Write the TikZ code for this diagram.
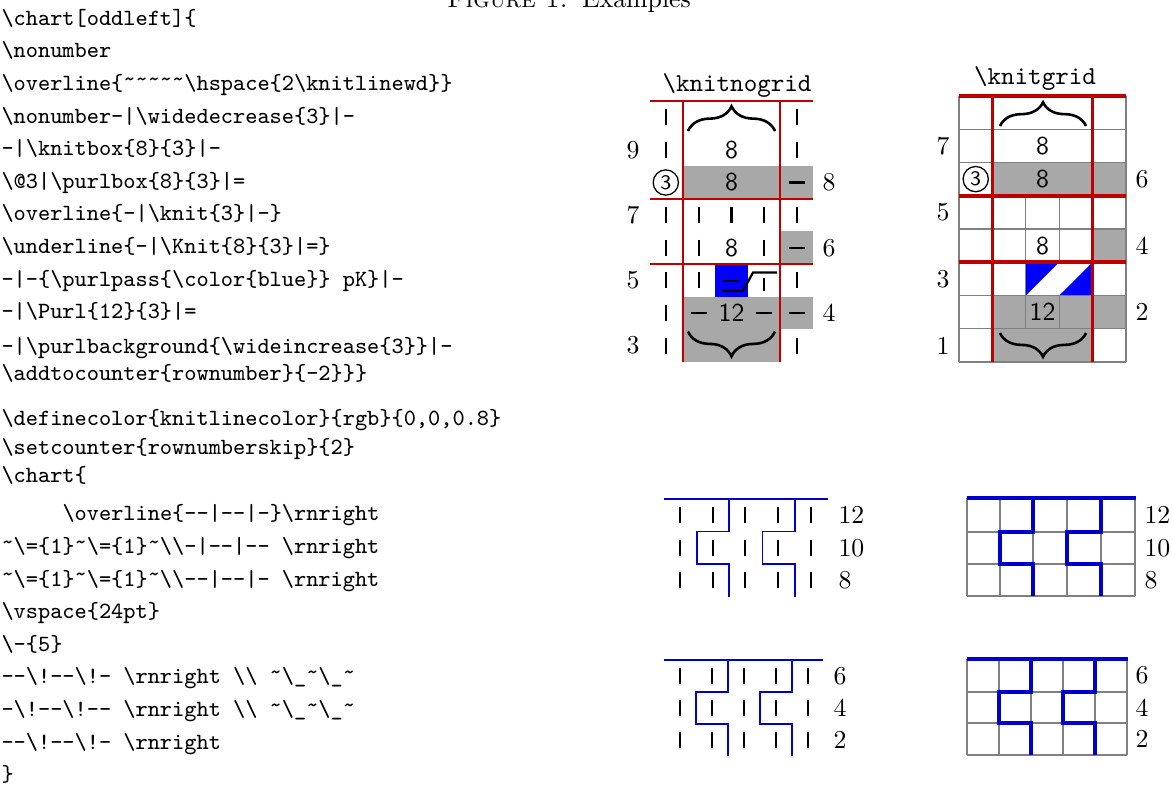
\documentclass[tikz,border=0pt]{standalone}
\usetikzlibrary{decorations.pathreplacing}

\definecolor{chartred}{rgb}{0.75,0,0}
\definecolor{purlgray}{rgb}{0.66,0.66,0.66}
\definecolor{gridgray}{rgb}{0.5,0.5,0.5}
\definecolor{knitlinecolor}{rgb}{0,0,0.8}
\definecolor{slipblue}{rgb}{0,0,1}

% verbatim-like helpers
\newcommand\bs{\textbackslash}
\newcommand\ob{\{}
\newcommand\cb{\}}
\newcommand\tld{\raisebox{0.18em}{\textasciitilde}}
\newcommand\hh{-\kern0pt-}

% knitting symbols
\newcommand\kbar[2]{\draw[knitbar] (#1,#2) ++(0,-8) -- ++(0,16);}
\newcommand\pdash[2]{\draw[purldash] (#1,#2) ++(-8,0) -- ++(16,0);}

\tikzset{
  code/.style={anchor=base west, inner sep=0pt, font=\ttfamily\fontsize{9}{11}\selectfont},
  charttitle/.style={inner sep=0pt, font=\ttfamily\fontsize{10}{12}\selectfont},
  rownum/.style={inner sep=0pt, font=\fontsize{10}{12}\selectfont},
  rnright/.style={rownum, anchor=west},
  stnum/.style={inner sep=0pt, font=\sffamily\fontsize{10}{12}\selectfont},
  circnum/.style={circle, draw, line width=0.5pt, inner sep=0pt, minimum size=9.8pt,
    font=\sffamily\fontsize{8}{9}\selectfont},
  redA/.style={draw=chartred, line width=0.8pt},
  redB/.style={draw=chartred, line width=1.4pt},
  knitbar/.style={draw=black, line width=0.8pt},
  purldash/.style={draw=black, line width=0.85pt},
  gridline/.style={draw=gridgray, line width=0.45pt},
  cableA/.style={draw=knitlinecolor, line width=0.75pt},
  cableB/.style={draw=knitlinecolor, line width=1.35pt},
  bracestyle/.style={decorate, decoration={brace, amplitude=#1}, line width=1pt},
}

\begin{document}
\begin{tikzpicture}[x=0.3876pt, y=-0.3876pt]
\useasboundingbox (0,0) rectangle (1172,789);
\clip (0,0) rectangle (1172,789);

% ---------- caption ----------
\node[inner sep=0pt, anchor=base, font=\fontsize{10}{12}\selectfont] (caption) at (569,7)
  {\textsc{Figure 1.}\hspace{5.5pt}Examples};

% ---------- source listing, first chart ----------
\node[code] (ca0)  at (1,25.3)  {\bs chart[oddleft]\ob};
\node[code] (ca1)  at (1,57.9)  {\bs nonumber};
\node[code] (ca2)  at (1,90.5)  {\bs overline\ob\tld\tld\tld\tld\tld\bs hspace\ob 2\bs knitlinewd\cb\cb};
\node[code] (ca3)  at (1,123.1) {\bs nonumber-|\bs widedecrease\ob 3\cb|-};
\node[code] (ca4)  at (1,155.7) {-|\bs knitbox\ob 8\cb\ob 3\cb|-};
\node[code] (ca5)  at (1,188.3) {\bs @3|\bs purlbox\ob 8\cb\ob 3\cb|=};
\node[code] (ca6)  at (1,220.9) {\bs overline\ob -|\bs knit\ob 3\cb|-\cb};
\node[code] (ca7)  at (1,253.5) {\bs underline\ob -|\bs Knit\ob 8\cb\ob 3\cb|=\cb};
\node[code] (ca8)  at (1,286.1) {-|-\ob\bs purlpass\ob\bs color\ob blue\cb\cb\ pK\cb|-};
\node[code] (ca9)  at (1,318.7) {-|\bs Purl\ob 12\cb\ob 3\cb|=};
\node[code] (ca10) at (1,353.3) {-|\bs purlbackground\ob\bs wideincrease\ob 3\cb\cb|-};
\node[code] (ca11) at (1,380.8) {\bs addtocounter\ob rownumber\cb\ob -2\cb\cb\cb};

% ---------- source listing, cable charts ----------
\node[code] (cb0)  at (1,425.8) {\bs definecolor\ob knitlinecolor\cb\ob rgb\cb\ob 0,0,0.8\cb};
\node[code] (cb1)  at (1,454.0) {\bs setcounter\ob rownumberskip\cb\ob 2\cb};
\node[code] (cb2)  at (1,482.8) {\bs chart\ob};
\node[code] (cb3)  at (62,520.8) {\bs overline\ob\hh|\hh|-\cb\bs rnright};
\node[code] (cb4)  at (1,553.4) {\tld\bs=\ob 1\cb\tld\bs=\ob 1\cb\tld\bs\bs-|\hh|\hh\ \bs rnright};
\node[code] (cb5)  at (1,586.0) {\tld\bs=\ob 1\cb\tld\bs=\ob 1\cb\tld\bs\bs\hh|\hh|-\ \bs rnright};
\node[code] (cb6)  at (1,618.6) {\bs vspace\ob 24pt\cb};
\node[code] (cb7)  at (1,651.2) {\bs-\ob 5\cb};
\node[code] (cb8)  at (1,683.8) {\hh\bs!\hh\bs!-\ \bs rnright\ \bs\bs\ \tld\bs\_\tld\bs\_\tld};
\node[code] (cb9)  at (1,716.4) {-\bs!\hh\bs!\hh\ \bs rnright\ \bs\bs\ \tld\bs\_\tld\bs\_\tld};
\node[code] (cb10) at (1,749.0) {\hh\bs!\hh\bs!-\ \bs rnright};
\node[code] (cb11) at (1,781.6) {\cb};

% =====================================================
% chart without grid (\knitnogrid)
% columns 650 | 682.6 | 715.2 | 747.8 | 780.4 | 813 ; rows from 101 by 32.6
% =====================================================
\node[charttitle] (titleA) at (737,85) {\bs knitnogrid};

% purl backgrounds
\fill[purlgray] (682.6,166.2) rectangle (813,198.8);
\fill[purlgray] (780.4,231.4) rectangle (813,264);
\fill[purlgray] (682.6,296.6) rectangle (813,329.2);
\fill[purlgray] (682.6,329.2) rectangle (780.4,361.8);
% slipped stitch cell
\fill[slipblue] (715.2,264) rectangle (747.8,296.6);

% frame lines
\draw[redA] (650,101) -- (813,101);
\draw[redA] (650,198.8) -- (813,198.8);
\draw[redA] (650,264) -- (813,264);
\draw[redA] (682.6,101) -- (682.6,361.8);
\draw[redA] (780.4,101) -- (780.4,361.8);

% stitches, left column
\foreach \y in {117.3,149.9,215.1,247.7,280.3,312.9,345.5} {\kbar{666.3}{\y}}
% stitches, right column
\foreach \y in {117.3,149.9,215.1,280.3,345.5} {\kbar{796.7}{\y}}
\foreach \y in {182.5,247.7,312.9} {\pdash{796.7}{\y}}
% stitches, middle block
\foreach \y in {215.1,247.7,280.3} {\kbar{698.9}{\y}}
\kbar{731.5}{215.1}
\foreach \y in {215.1,247.7} {\kbar{764.1}{\y}}
\pdash{698.9}{312.9}
\pdash{764.1}{312.9}
% purl pass with yarn strand
\draw[purldash] (722.5,281) -- (738.5,281);
\draw[purldash] (722,291) -- (743,291) -- (753,272.5) -- (777,272.5);
\draw[knitbar] (764.1,278) -- (764.1,290.5);

% counts and markers
\node[stnum] (nA2) at (731.5,149.9) {8};
\node[stnum] (nA3) at (731.5,182.5) {8};
\node[stnum] (nA5) at (731.5,247.7) {8};
\node[stnum] (nA7) at (731.5,312.9) {12};
\node[circnum] (cA) at (665.8,182.5) {3};
\draw[bracestyle=9.6pt] (688,131) -- (775,131);
\draw[bracestyle=9.6pt] (775,331.5) -- (688,331.5);

% row numbers
\node[rownum] (lA9) at (633,149.9) {9};
\node[rownum] (lA7) at (633,215.1) {7};
\node[rownum] (lA5) at (633,280.3) {5};
\node[rownum] (lA3) at (633,345.5) {3};
\node[rownum] (rA8) at (829,182.5) {8};
\node[rownum] (rA6) at (829,247.7) {6};
\node[rownum] (rA4) at (829,312.9) {4};

% =====================================================
% chart with grid (\knitgrid)
% columns 959 | 992.4 | 1025.8 | 1059.2 | 1092.6 | 1126 ; rows from 96 by 33.25
% =====================================================
\node[charttitle] (titleB) at (1035,78) {\bs knitgrid};

\fill[purlgray] (992.4,162.5) rectangle (1126,195.75);
\fill[purlgray] (1092.6,229) rectangle (1126,262.25);
\fill[purlgray] (992.4,295.5) rectangle (1126,328.75);
\fill[purlgray] (992.4,328.75) rectangle (1092.6,362);

% wide increase
\fill[slipblue] (1025.8,262.25) -- (1059.2,262.25) -- (1025.8,295.5) -- cycle;
\fill[slipblue] (1092.6,262.25) -- (1092.6,295.5) -- (1059.2,295.5) -- cycle;

% grid
\foreach \y in {129.25,162.5,229,295.5,328.75,362} {\draw[gridline] (959,\y) -- (1126,\y);}
\draw[gridline] (959,96) -- (959,362);
\draw[gridline] (1126,96) -- (1126,362);
\draw[gridline] (1025.8,195.75) -- (1025.8,328.75);
\draw[gridline] (1059.2,195.75) -- (1059.2,262.25);
\draw[gridline] (1059.2,295.5) -- (1059.2,328.75);

% frame lines
\draw[redB] (959,96) -- (1126,96);
\draw[redB] (959,195.75) -- (1126,195.75);
\draw[redB] (959,262.25) -- (1126,262.25);
\draw[redB] (992.4,96) -- (992.4,362);
\draw[redB] (1092.6,96) -- (1092.6,362);

\node[stnum] (nB2) at (1042.5,145.9) {8};
\node[stnum] (nB3) at (1042.5,179.1) {8};
\node[stnum] (nB5) at (1042.5,245.6) {8};
\node[stnum] (nB7) at (1042.5,312.1) {12};
\node[circnum] (cB) at (975.7,179.1) {3};
\draw[bracestyle=9.2pt] (1000,126) -- (1086,126);
\draw[bracestyle=9.2pt] (1086,333) -- (1000,333);

\node[rownum] (lB7) at (943,145.9) {7};
\node[rownum] (lB5) at (943,212.4) {5};
\node[rownum] (lB3) at (943,278.9) {3};
\node[rownum] (lB1) at (943,345.4) {1};
\node[rownum] (rB6) at (1142,179.1) {6};
\node[rownum] (rB4) at (1142,245.6) {4};
\node[rownum] (rB2) at (1142,312.1) {2};

% =====================================================
% cable charts, upper pair
% =====================================================
% without grid
\foreach \y in {515.2,547.7,580.2}
  \foreach \x in {680,712.7,745.4,778.1,810.8} {\kbar{\x}{\y}}
\draw[cableA] (664,499) -- (828,499);
\draw[cableA] (729,499) -- (729,531.5) -- (697,531.5) -- (697,564) -- (729,564) -- (729,596.5);
\draw[cableA] (795,499) -- (795,531.5) -- (762.5,531.5) -- (762.5,564) -- (795,564) -- (795,596.5);
\node[rnright] (rC12) at (838,515.2) {12};
\node[rnright] (rC10) at (838,547.7) {10};
\node[rnright] (rC8)  at (838,580.2) {8};

% with grid
\foreach \y in {532,564,596} {\draw[gridline] (967,\y) -- (1135,\y);}
\foreach \x in {967,1000,1033,1067,1101,1135} {\draw[gridline] (\x,498) -- (\x,596);}
\draw[cableB] (967,498) -- (1136,498);
\draw[cableB] (1033,498) -- (1033,532) -- (1000,532) -- (1000,564) -- (1033,564) -- (1033,596);
\draw[cableB] (1101,498) -- (1101,532) -- (1067,532) -- (1067,564) -- (1101,564) -- (1101,596);
\node[rnright] (rD12) at (1144,515) {12};
\node[rnright] (rD10) at (1144,548) {10};
\node[rnright] (rD8)  at (1144,580) {8};

% =====================================================
% cable charts, lower pair
% =====================================================
% without grid
\foreach \y in {676,708,740}
  \foreach \x in {680,712,744,776,808} {\kbar{\x}{\y}}
\draw[cableA] (664,660) -- (823,660);
\draw[cableA] (728,660) -- (728,692) -- (696,692) -- (696,724) -- (728,724) -- (728,756);
\draw[cableA] (792,660) -- (792,692) -- (760,692) -- (760,724) -- (792,724) -- (792,756);
\node[rnright] (rE6) at (833,676) {6};
\node[rnright] (rE4) at (833,708) {4};
\node[rnright] (rE2) at (833,740) {2};

% with grid
\foreach \y in {692,723,755} {\draw[gridline] (967,\y) -- (1127,\y);}
\foreach \x in {967,999,1031,1063,1095,1127} {\draw[gridline] (\x,659) -- (\x,755);}
\draw[cableB] (967,659) -- (1128,659);
\draw[cableB] (1031,659) -- (1031,692) -- (999,692) -- (999,723) -- (1031,723) -- (1031,755);
\draw[cableB] (1095,659) -- (1095,692) -- (1063,692) -- (1063,723) -- (1095,723) -- (1095,755);
\node[rnright] (rF6) at (1135,675.5) {6};
\node[rnright] (rF4) at (1135,707.5) {4};
\node[rnright] (rF2) at (1135,739) {2};

\end{tikzpicture}
\end{document}
